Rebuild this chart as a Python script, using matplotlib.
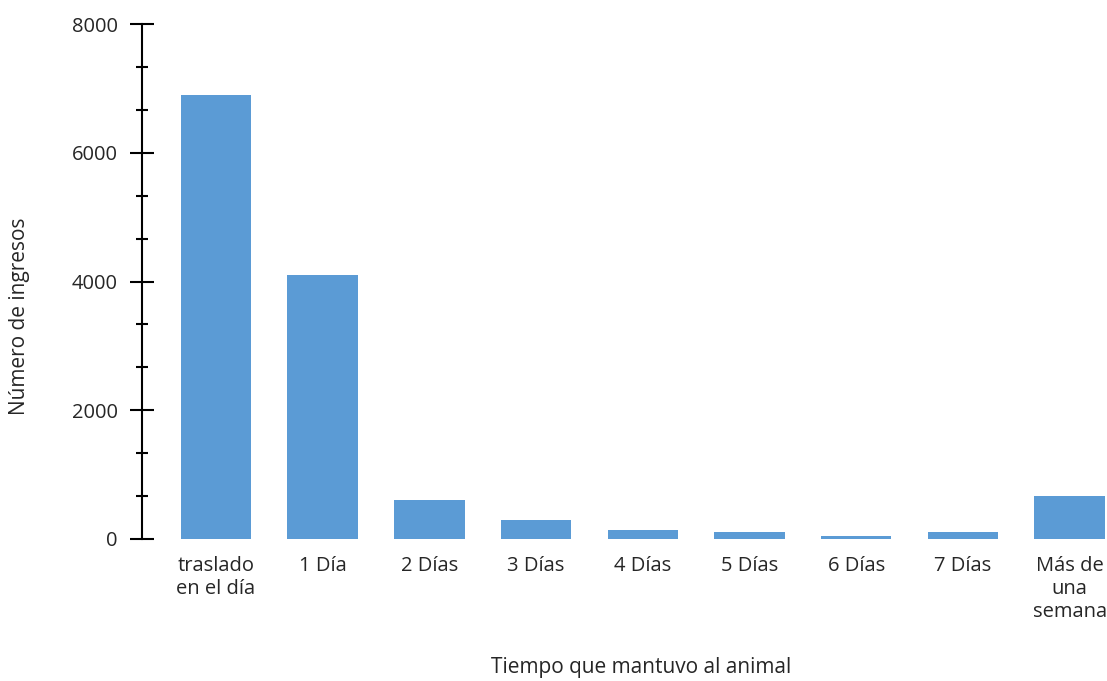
import matplotlib
matplotlib.use("Agg")
import matplotlib.pyplot as plt
from matplotlib.ticker import MultipleLocator

plt.rcParams['font.family'] = ['Open Sans', 'DejaVu Sans']

categories = ["traslado\nen el día", "1 Día", "2 Días", "3 Días", "4 Días",
              "5 Días", "6 Días", "7 Días", "Más de\nuna\nsemana"]
values = [6890, 4100, 610, 290, 135, 110, 47, 109, 668]
yticks = [0, 2000, 4000, 6000, 8000]

fig = plt.figure(figsize=(11.07, 6.81), dpi=100)
ax = fig.add_axes([142/1107, 1 - 539/681, 1 - 142/1107, (539 - 24)/681])

x = list(range(len(categories)))
ax.bar(x, values, width=0.66, color="#5B9BD5", zorder=2)

ax.set_ylim(0, 8000)
ax.set_xlim(-0.693, 8.35)
ax.set_yticks(yticks)
ax.yaxis.set_minor_locator(MultipleLocator(2000/3))
ax.set_xticks(x)
ax.set_xticklabels(categories, fontsize=14.5, color="#262626", linespacing=1.2)

for s in ["top", "right", "bottom"]:
    ax.spines[s].set_visible(False)
ax.spines["left"].set_linewidth(1.5)

ax.tick_params(axis="y", which="major", direction="inout", length=17, width=1.5,
               labelsize=14.5, labelcolor="#262626", pad=9)
ax.tick_params(axis="y", which="minor", direction="inout", length=8.6, width=1.5)
ax.tick_params(axis="x", length=0, pad=12)

fig.text(20/1107, 1 - 316/681, "Número de ingresos", rotation=90, ha="center", va="center",
         fontsize=15, color="#262626")
fig.text(641/1107, 1 - 668/681, "Tiempo que mantuvo al animal", ha="center", va="center",
         fontsize=15, color="#262626")

fig.savefig("out.png", dpi=100)
